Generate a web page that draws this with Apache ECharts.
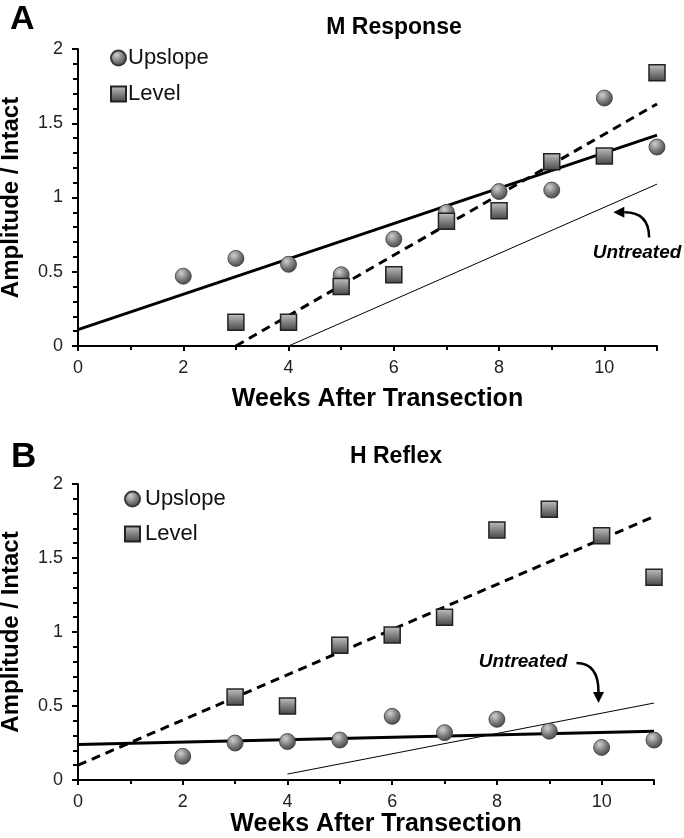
<!DOCTYPE html>
<html><head><meta charset="utf-8">
<script src="https://cdn.jsdelivr.net/npm/echarts@6/dist/echarts.min.js"></script>
<style>html,body{margin:0;padding:0;background:#fff}#c{width:684px;height:838px}</style>
</head><body><div id="c"></div>
<script>
// ---- data ----
var weeks = [2,3,4,5,6,7,8,9,10,11];
var weeksLevel = [3,4,5,6,7,8,9,10,11];
var xTicks = [0,2,4,6,8,10];
var yTicks = [0,0.5,1,1.5,2];
// Panel A: M Response
var mUpslope = [0.47,0.59,0.55,0.48,0.72,0.90,1.04,1.05,1.67,1.34];
var mLevel   = [0.16,0.16,0.40,0.48,0.84,0.91,1.24,1.28,1.84];
var mFitUpslope  = [[0,0.11],[11,1.42]];
var mFitLevel    = [[3,0],[11,1.63]];
var mUntreated   = [[4,0],[11,1.09]];
// Panel B: H Reflex
var hUpslope = [0.16,0.25,0.26,0.27,0.43,0.32,0.41,0.33,0.22,0.27];
var hLevel   = [0.56,0.50,0.91,0.98,1.10,1.69,1.83,1.65,1.37];
var hFitUpslope  = [[0,0.24],[11,0.33]];
var hFitLevel    = [[0,0.10],[11,1.78]];
var hUntreated   = [[4,0.04],[11,0.52]];
// annotation anchors (data coords)
var mLabel = {text:'Untreated', at:[10.62,0.63], arrowFrom:[10.85,0.73], arrowTo:[10.17,0.90]};
var hLabel = {text:'Untreated', at:[8.5,0.80], arrowFrom:[9.52,0.79], arrowTo:[9.94,0.52]};

function pair(xs, ys){ return xs.map(function(x,i){return [x, ys[i]];}); }

var FONT = '"Liberation Sans", Arial, sans-serif';
var circleColor = {type:'radial', x:0.38, y:0.32, r:0.75, colorStops:[{offset:0,color:'#d0d0d0'},{offset:0.5,color:'#808080'},{offset:1,color:'#3c3c3c'}]};
var squareColor = {type:'linear', x:0, y:0, x2:0, y2:1, colorStops:[{offset:0,color:'#c4c4c4'},{offset:0.45,color:'#888'},{offset:1,color:'#454545'}]};

function xAxis(idx){
  return {gridIndex:idx, type:'value', min:0, max:11, interval:2,
    name:'Weeks After Transection', nameLocation:'middle', nameGap: idx===0?41:29,
    nameTextStyle:{fontFamily:FONT, fontWeight:'bold', fontSize:25, color:'#000', padding:[0,0,0,20]},
    axisLine:{show:true, onZero:false, lineStyle:{color:'#000', width:2}},
    axisTick:{show:true, length:5, lineStyle:{color:'#000', width:2}},
    minorTick:{show:true, splitNumber:2, length:4, lineStyle:{color:'#000', width:2}},
    splitLine:{show:false},
    axisLabel:{fontFamily:FONT, fontSize:18, color:'#222', margin:13,
      formatter:function(v){ return xTicks.indexOf(v)>=0 ? String(v) : ''; }}};
}
function yAxis(idx){
  return {gridIndex:idx, type:'value', min:0, max:2, interval:0.5,
    name:'Amplitude / Intact', nameLocation:'middle', nameGap:55,
    nameTextStyle:{fontFamily:FONT, fontWeight:'bold', fontSize:24, color:'#000'},
    axisLine:{show:true, lineStyle:{color:'#000', width:2}},
    axisTick:{show:true, length:6, lineStyle:{color:'#000', width:2}},
    minorTick:{show:true, splitNumber:5, length:5, lineStyle:{color:'#000', width:2}},
    splitLine:{show:false},
    axisLabel:{fontFamily:FONT, fontSize:18, color:'#222', margin:15,
      formatter:function(v){ return yTicks.indexOf(v)>=0 ? String(v) : ''; }}};
}
function scatter(name, idx, data, sym){
  return {name:name, type:'scatter', xAxisIndex:idx, yAxisIndex:idx, data:data,
    symbol:sym, symbolSize:16, z:3,
    itemStyle:{color: sym==='circle'?circleColor:squareColor, borderColor: sym==='circle'?'#3a3a3a':'#222', borderWidth: sym==='circle'?0.8:1.5, opacity:1}};
}
function fit(idx, data, style){
  return {type:'line', xAxisIndex:idx, yAxisIndex:idx, data:data, symbol:'none', z:2, silent:true,
    lineStyle:style};
}
var solid = {color:'#000', width:3, type:'solid'};
var dashed = {color:'#000', width:3, type:[9,6]};
var thin = {color:'#000', width:1, type:'solid'};

var chart = echarts.init(document.getElementById('c'));
var option = {
  animation:false,
  title:[
    {text:'M Response', left:389, top:11, textAlign:'center', textStyle:{fontFamily:FONT, fontWeight:'bold', fontSize:23, color:'#000'}},
    {text:'H Reflex', left:391, top:440, textAlign:'center', textStyle:{fontFamily:FONT, fontWeight:'bold', fontSize:23, color:'#000'}},
    {text:'A', left:5, top:-2, textStyle:{fontFamily:FONT, fontWeight:'bold', fontSize:34, color:'#000'}},
    {text:'B', left:6, top:435, textStyle:{fontFamily:FONT, fontWeight:'bold', fontSize:35, color:'#000'}}
  ],
  legend:[
    {left:105, top:42, orient:'vertical', itemGap:14, itemWidth:15, itemHeight:15,
      data:[{name:'Upslope', icon:'circle'},{name:'Level', icon:'rect'}],
      textStyle:{fontFamily:FONT, fontSize:22, color:'#111', padding:[0,0,0,-3]}},
    {left:119, top:483, orient:'vertical', itemGap:13, itemWidth:15, itemHeight:15,
      data:[{name:'Upslope', icon:'circle'},{name:'Level', icon:'rect'}],
      textStyle:{fontFamily:FONT, fontSize:22, color:'#111', padding:[0,0,0,0]}}
  ],
  grid:[
    {left:78, right:27, top:49, height:297, containLabel:false, outerBoundsMode:'none'},
    {left:78, right:30, top:484, height:296, containLabel:false, outerBoundsMode:'none'}
  ],
  xAxis:[xAxis(0), xAxis(1)],
  yAxis:[yAxis(0), yAxis(1)],
  series:[
    fit(0, mFitUpslope, solid), fit(0, mFitLevel, dashed), fit(0, mUntreated, thin),
    scatter('Upslope', 0, pair(weeks, mUpslope), 'circle'),
    scatter('Level', 0, pair(weeksLevel, mLevel), 'rect'),
    fit(1, hFitUpslope, solid), fit(1, hFitLevel, dashed), fit(1, hUntreated, thin),
    scatter('Upslope', 1, pair(weeks, hUpslope), 'circle'),
    scatter('Level', 1, pair(weeksLevel, hLevel), 'rect')
  ]
};
chart.setOption(option);

function px(gi, p){ return chart.convertToPixel({gridIndex:gi}, p); }
function arrow(gi, a, mode){
  var s = px(gi, a.arrowFrom), e = px(gi, a.arrowTo);
  var cx = mode==='up' ? s[0] : e[0], cy = mode==='up' ? e[1] : s[1];
  var ang = Math.atan2(e[1]-cy, e[0]-cx);
  var L = 11, W = 5.5;
  var bx = e[0]-L*Math.cos(ang), by = e[1]-L*Math.sin(ang);
  var head = [[e[0],e[1]],[bx - W*Math.sin(ang), by + W*Math.cos(ang)],[bx + W*Math.sin(ang), by - W*Math.cos(ang)]];
  return [
    {type:'bezierCurve', shape:{x1:s[0],y1:s[1],x2:bx,y2:by,cpx1:cx,cpy1:cy}, style:{stroke:'#000', lineWidth:2.5, fill:null}},
    {type:'polygon', shape:{points:head}, style:{fill:'#000'}}
  ];
}
var tA = px(0, mLabel.at), tB = px(1, hLabel.at);
var g = [
  {type:'text', x:tA[0], y:tA[1], style:{text:mLabel.text, fontFamily:FONT, fontStyle:'italic', fontWeight:'bold', fontSize:19, fill:'#000', textAlign:'center', textVerticalAlign:'middle'}},
  {type:'text', x:tB[0], y:tB[1], style:{text:hLabel.text, fontFamily:FONT, fontStyle:'italic', fontWeight:'bold', fontSize:19, fill:'#000', textAlign:'center', textVerticalAlign:'middle'}}
].concat(arrow(0, mLabel, 'up')).concat(arrow(1, hLabel, 'right'));
chart.setOption({graphic:g});
</script></body></html>
